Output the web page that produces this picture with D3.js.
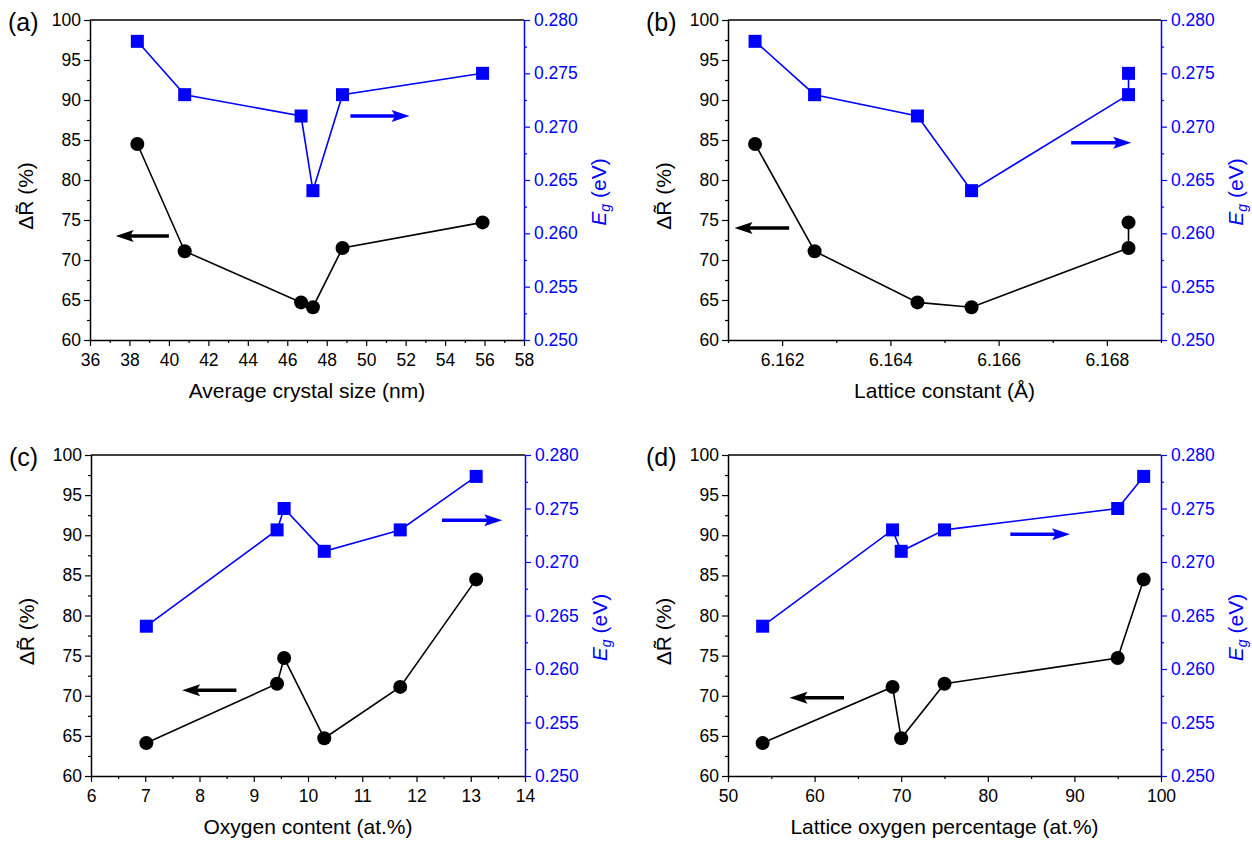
<!DOCTYPE html>
<html>
<head>
<meta charset="utf-8">
<script src="https://cdn.jsdelivr.net/npm/d3@7"></script>
<style>
body { margin: 0; background: #fff; }
svg text { font-family: "Liberation Sans", Arial, sans-serif; }
</style>
</head>
<body>
<div id="chart"></div>
<script>
// one entry per sample, same order in every array
const deltaR = [84.5, 71.1, 64.7, 64.1, 71.5, 74.7];
const bandGap = [0.278, 0.273, 0.271, 0.264, 0.273, 0.275];
const crystalSize = [38.4, 40.8, 46.7, 47.3, 48.8, 55.9];
const latticeConstant = [6.1615, 6.1626, 6.1645, 6.1655, 6.1684, 6.1684];
const oxygenContent = [13.1, 11.7, 10.3, 7.02, 9.43, 9.56];
const latticeOxygen = [98, 69, 70, 54, 75, 95];

// tick values
const rTicks = [60, 65, 70, 75, 80, 85, 90, 95, 100];
const rMinor = [62.5, 67.5, 72.5, 77.5, 82.5, 87.5, 92.5, 97.5];
const egTicks = [0.250, 0.255, 0.260, 0.265, 0.270, 0.275, 0.280];
const egMinor = [0.2525, 0.2575, 0.2625, 0.2675, 0.2725, 0.2775];
const sizeTicks = [36, 38, 40, 42, 44, 46, 48, 50, 52, 54, 56, 58];
const sizeMinor = [37, 39, 41, 43, 45, 47, 49, 51, 53, 55, 57];
const latticeTicks = [6.162, 6.164, 6.166, 6.168];
const latticeMinor = [6.161, 6.163, 6.165, 6.167, 6.169];
const oxygenTicks = [6, 7, 8, 9, 10, 11, 12, 13, 14];
const oxygenMinor = [6.5, 7.5, 8.5, 9.5, 10.5, 11.5, 12.5, 13.5];
const latOxTicks = [50, 60, 70, 80, 90, 100];
const latOxMinor = [55, 65, 75, 85, 95];

// arrows: [from, to, value on its own axis]
const arrowsA = { black: [40.0, 37.3, 73.0], blue: [49.2, 52.2, 0.2710] };
const arrowsB = { black: [6.16213, 6.16112, 74.0], blue: [6.16734, 6.16845, 0.2685] };
const arrowsC = { black: [8.68, 7.68, 70.7], blue: [12.47, 13.58, 0.2739] };
const arrowsD = { black: [63.4, 57.1, 69.75], blue: [82.6, 89.5, 0.2726] };

const BLUE = "#0000ff";

const panels = [
    { label: "(a)", xs: crystalSize, domain: [36, 58], ticks: sizeTicks, minor: sizeMinor, fmt: d3.format("d"),
      title: "Average crystal size (nm)", arrows: arrowsA, box: { left: 90, right: 524, top: 20, bottom: 340 } },
    { label: "(b)", xs: latticeConstant, domain: [6.161, 6.169], ticks: latticeTicks, minor: latticeMinor, fmt: d3.format(".3f"),
      title: "Lattice constant (Å)", arrows: arrowsB, box: { left: 728, right: 1161, top: 20, bottom: 340 } },
    { label: "(c)", xs: oxygenContent, domain: [6, 14], ticks: oxygenTicks, minor: oxygenMinor, fmt: d3.format("d"),
      title: "Oxygen content (at.%)", arrows: arrowsC, box: { left: 91, right: 525, top: 455, bottom: 776 } },
    { label: "(d)", xs: latticeOxygen, domain: [50, 100], ticks: latOxTicks, minor: latOxMinor, fmt: d3.format("d"),
      title: "Lattice oxygen percentage (at.%)", arrows: arrowsD, box: { left: 728, right: 1161, top: 455, bottom: 776 } }
];

const svg = d3.select("#chart")
    .append("svg")
        .attr("width", 1252)
        .attr("height", 845);

function styleAxis(g, color) {
    g.selectAll("path.domain").attr("stroke", color).attr("stroke-width", 1.5);
    g.selectAll(".tick line").attr("stroke", color).attr("stroke-width", 1.2);
    g.selectAll(".tick text").attr("fill", color).attr("font-size", 17.5)
        .attr("font-family", "Liberation Sans, Arial, sans-serif");
}

function drawArrow(g, x0, x1, y, color) {
    const dir = Math.sign(x1 - x0);
    const len = 18, half = 6;
    g.append("line")
        .attr("x1", x0).attr("x2", x1 - dir * len * 0.7)
        .attr("y1", y).attr("y2", y)
        .attr("stroke", color).attr("stroke-width", 3.5);
    g.append("path")
        .attr("d", `M${x1},${y} L${x1 - dir * len},${y - half} L${x1 - dir * len * 0.8},${y} L${x1 - dir * len},${y + half} Z`)
        .attr("fill", color);
}

function drawPanel(p) {
    const b = p.box;
    const g = svg.append("g");

    const x = d3.scaleLinear().domain(p.domain).range([b.left, b.right]);
    const yR = d3.scaleLinear().domain([60, 100]).range([b.bottom, b.top]);
    const yE = d3.scaleLinear().domain([0.250, 0.280]).range([b.bottom, b.top]);

    // minor ticks first
    g.append("g").attr("transform", `translate(0,${b.bottom})`)
        .call(d3.axisBottom(x).tickValues(p.minor).tickSize(3).tickFormat(""))
        .call(a => { a.select(".domain").remove(); styleAxis(a, "#000"); });
    g.append("g").attr("transform", `translate(${b.left},0)`)
        .call(d3.axisLeft(yR).tickValues(rMinor).tickSize(3).tickFormat(""))
        .call(a => { a.select(".domain").remove(); styleAxis(a, "#000"); });
    g.append("g").attr("transform", `translate(${b.right},0)`)
        .call(d3.axisRight(yE).tickValues(egMinor).tickSize(3).tickFormat(""))
        .call(a => { a.select(".domain").remove(); styleAxis(a, BLUE); });

    // top frame line
    g.append("line")
        .attr("x1", b.left).attr("x2", b.right)
        .attr("y1", b.top).attr("y2", b.top)
        .attr("stroke", "#000").attr("stroke-width", 1.5);

    // major axes
    g.append("g").attr("transform", `translate(0,${b.bottom})`)
        .call(d3.axisBottom(x).tickValues(p.ticks).tickSize(6).tickSizeOuter(0).tickPadding(8).tickFormat(p.fmt))
        .call(a => styleAxis(a, "#000"));
    g.append("g").attr("transform", `translate(${b.left},0)`)
        .call(d3.axisLeft(yR).tickValues(rTicks).tickSize(6).tickSizeOuter(0).tickPadding(3).tickFormat(d3.format("d")))
        .call(a => styleAxis(a, "#000"));
    g.append("g").attr("transform", `translate(${b.right},0)`)
        .call(d3.axisRight(yE).tickValues(egTicks).tickSize(6).tickSizeOuter(0).tickPadding(4).tickFormat(d3.format(".3f")))
        .call(a => styleAxis(a, BLUE));

    // points sorted along x, lines join them in that order
    const idx = d3.range(p.xs.length).sort((i, j) => p.xs[i] - p.xs[j]);

    g.append("path")
        .datum(idx)
        .attr("fill", "none").attr("stroke", BLUE).attr("stroke-width", 1.6)
        .attr("d", d3.line().x(i => x(p.xs[i])).y(i => yE(bandGap[i])));
    g.append("path")
        .datum(idx)
        .attr("fill", "none").attr("stroke", "#000").attr("stroke-width", 1.6)
        .attr("d", d3.line().x(i => x(p.xs[i])).y(i => yR(deltaR[i])));

    g.selectAll("rect.eg")
        .data(idx)
        .enter().append("rect")
            .attr("class", "eg")
            .attr("x", i => x(p.xs[i]) - 6.5)
            .attr("y", i => yE(bandGap[i]) - 6.5)
            .attr("width", 13).attr("height", 13)
            .attr("fill", BLUE);
    g.selectAll("circle.dr")
        .data(idx)
        .enter().append("circle")
            .attr("class", "dr")
            .attr("cx", i => x(p.xs[i]))
            .attr("cy", i => yR(deltaR[i]))
            .attr("r", 7)
            .attr("fill", "#000");

    // arrows telling which axis belongs to which series
    drawArrow(g, x(p.arrows.black[0]), x(p.arrows.black[1]), yR(p.arrows.black[2]), "#000");
    drawArrow(g, x(p.arrows.blue[0]), x(p.arrows.blue[1]), yE(p.arrows.blue[2]), BLUE);

    // labels
    const midY = (b.top + b.bottom) / 2;
    g.append("text")
        .attr("x", (b.left + b.right) / 2)
        .attr("y", b.bottom + 58)
        .attr("text-anchor", "middle")
        .attr("font-size", 21)
        .text(p.title);

    g.append("text")
        .attr("transform", `translate(${b.left - 57},${midY + 16}) rotate(-90)`)
        .attr("text-anchor", "middle")
        .attr("font-size", 21)
        .text("\u0394R\u0303 (%)");

    const eg = g.append("text")
        .attr("transform", `translate(${b.right + 82},${midY + 12}) rotate(-90)`)
        .attr("text-anchor", "middle")
        .attr("font-size", 21)
        .attr("fill", BLUE);
    eg.append("tspan").attr("font-style", "italic").text("E");
    eg.append("tspan").attr("font-style", "italic").attr("font-size", 14).attr("dy", 4).text("g");
    eg.append("tspan").attr("dy", -4).text(" (eV)");

    g.append("text")
        .attr("x", b.left - 82)
        .attr("y", b.top + 11)
        .attr("font-size", 25)
        .text(p.label);
}

panels.forEach(drawPanel);
</script>
</body>
</html>
